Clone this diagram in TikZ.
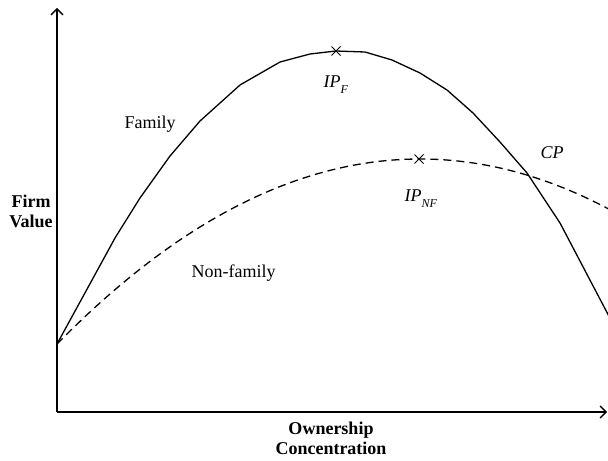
\documentclass[tikz,border=0pt]{standalone}
\usepackage{fontspec}
\setmainfont{Liberation Serif}
\usetikzlibrary{arrows.meta, shapes.misc}
\newcommand{\ipsub}[1]{\textit{IP}\raisebox{-3pt}{\fontsize{6}{6}\selectfont\textit{#1}}}
\tikzset{
  croix/.style={cross out, draw, minimum size=4pt, inner sep=0pt, line width=0.5pt},
  axelabel/.style={align=center, font=\fontsize{9}{10}\selectfont\bfseries}
}
\begin{document}
\begin{tikzpicture}[x=0.5pt, y=-0.5pt, font=\fontsize{9}{10}\selectfont, line width=0.65pt, >={Straight Barb[length=3pt, width=6pt]}]
    \useasboundingbox (0,0) rectangle (608,460);

    %les axes
    \coordinate (O) at (57,412);
    \coordinate (ymax) at (57,8);
    \coordinate (xmax) at (607,412);
    \draw [->] (O) -- (ymax);
    \draw [->] (O) -- (xmax);
    \node [axelabel] (firmvalue) at (31,211) {Firm\\Value};
    \node [axelabel] (ownership) at (331,438) {Ownership\\Concentration};

    %courbe family
    \draw plot coordinates {(57,344) (80,302) (115,238) (140,198) (170,156) (200,121) (240,85) (280,62) (310,54) (336,51) (365,52) (392,60) (420,73) (447,90) (473,113) (500,142) (527,173) (560,223) (612,322)};

    %courbe non-family en pointillés
    \draw [dash pattern=on 4pt off 2.5pt] plot [domain=57:612, samples=80] (\x, {159+(0.03747*(\x-420))^2});

    %points d'inflexion
    \node [croix] (ipf) at (336,51) {};
    \node [croix] (ipnf) at (419,159) {};

    %labels
    \node [anchor=base west, inner sep=0pt] (lblipf) at (323,87) {\ipsub{F}};
    \node [anchor=base west, inner sep=0pt] (lblipnf) at (404,201) {\ipsub{NF}};
    \node [anchor=base west, inner sep=0pt] (cp) at (540,158) {\textit{CP}};
    \node [anchor=base west, inner sep=0pt] (family) at (124,128) {Family};
    \node [anchor=base west, inner sep=0pt] (nonfamily) at (191,277) {Non-family};
\end{tikzpicture}
\end{document}
